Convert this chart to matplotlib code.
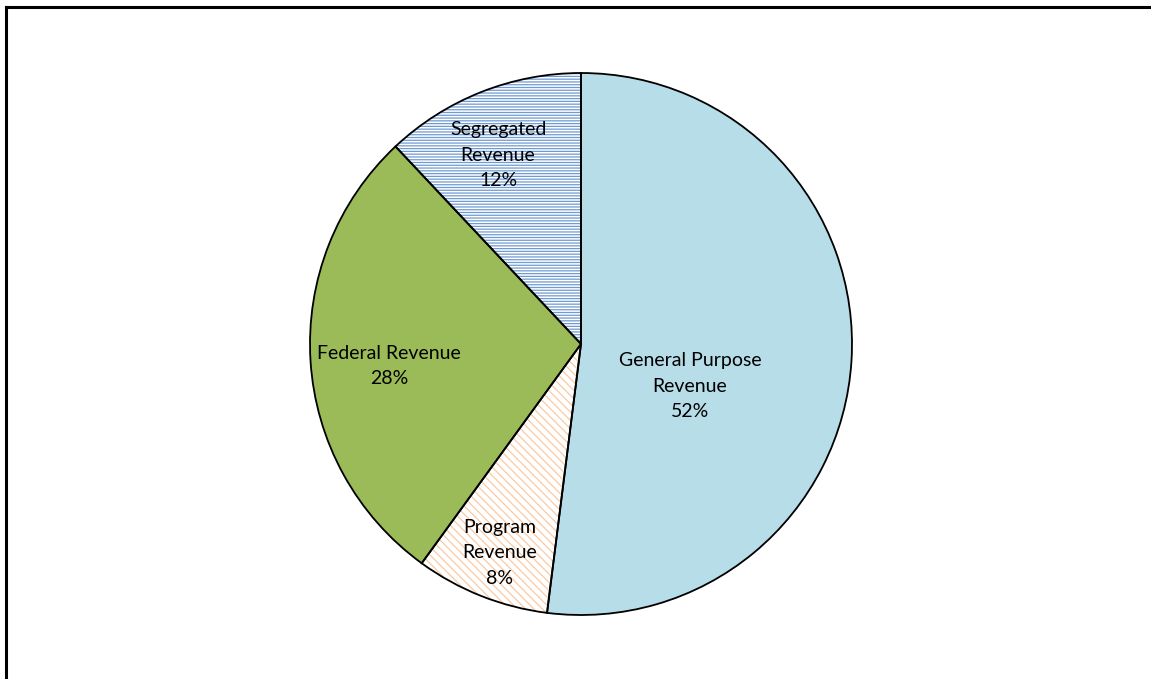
import matplotlib
matplotlib.use("Agg")
import matplotlib.pyplot as plt
from matplotlib.lines import Line2D

categories = ["General Purpose\nRevenue", "Program\nRevenue", "Federal Revenue", "Segregated\nRevenue"]
shares = [52, 8, 28, 12]
pct_labels = ["52%", "8%", "28%", "12%"]

face_colors = ["#B7DDE8", "white", "#9BBB59", "white"]
hatches = [None, "\\\\\\\\", None, "------"]
hatch_colors = ["#B7DDE8", "#F9C9A2", "#9BBB59", "#6F9AD3"]

label_pos = [(0.402, -0.155), (-0.299, -0.771), (-0.708, -0.081), (-0.306, 0.697)]

plt.rcParams['font.family'] = ['Lato', 'DejaVu Sans']
plt.rcParams['hatch.linewidth'] = 0.9

fig = plt.figure(figsize=(11.51, 6.79), dpi=100)
ax = fig.add_axes([0, 0, 1, 1])

cx, cy, R = 581, 344, 271
W, H = 1151, 679

# fill + hatch layer
wedges, _ = ax.pie(shares, startangle=90, counterclock=False,
                   colors=face_colors, wedgeprops=dict(linewidth=0))
for w, h, hc in zip(wedges, hatches, hatch_colors):
    w.set_edgecolor(hc)
    w.set_linewidth(0)
    if h:
        w.set_hatch(h)

# outline layer
outl, _ = ax.pie(shares, startangle=90, counterclock=False,
                 colors=["none"] * 4,
                 wedgeprops=dict(linewidth=1.3, edgecolor="black", fill=False))

for cat, pct, (x, y) in zip(categories, pct_labels, label_pos):
    ax.text(x, y, cat + "\n" + pct, ha="center", va="center",
            fontsize=14, color="#000000", linespacing=1.62)

ax.set_xlim(-cx / R, (W - cx) / R)
ax.set_ylim(-(H - cy) / R, cy / R)
ax.set_aspect('auto')
ax.axis('off')

fig.add_artist(Line2D([5.5 / W, 5.5 / W], [0, 1 - 7 / H], transform=fig.transFigure,
                      color="black", linewidth=2.2, solid_capstyle="projecting"))
fig.add_artist(Line2D([5.5 / W, 1], [1 - 7 / H, 1 - 7 / H], transform=fig.transFigure,
                      color="black", linewidth=2.2, solid_capstyle="projecting"))

fig.savefig("out.png", dpi=100)
